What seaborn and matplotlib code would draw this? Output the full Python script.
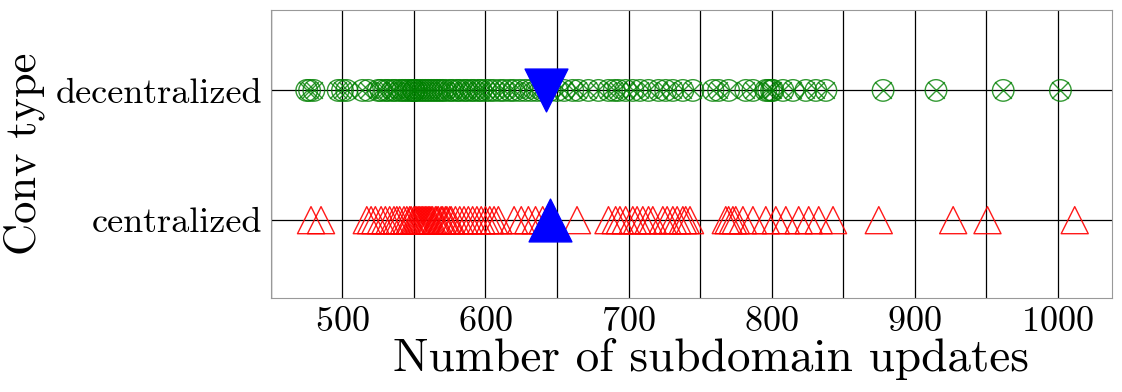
import matplotlib
matplotlib.use("Agg")
import matplotlib.pyplot as plt
import pandas as pd
import seaborn as sns

conv_types = ["decentralized", "centralized"]

decentralized = [475, 477, 480, 497, 500, 503, 514, 518,
                 525, 527, 530, 532, 535, 537, 540, 542, 544, 546, 548, 550, 550, 550,
                 552, 554, 556, 558, 560, 562, 564, 566, 568, 570, 572, 575, 577, 580,
                 582, 585, 587, 590, 592, 595, 597, 600, 603, 606, 610, 613, 617, 620,
                 624, 628, 632, 636, 640, 645, 650, 655,
                 661, 665, 672, 679, 686, 690, 693, 698, 703, 708, 714, 721, 726, 731,
                 738, 745, 759, 763, 770, 782, 787, 796, 798, 800, 801, 808, 815, 824,
                 831, 838,
                 878, 915, 962, 1002]

centralized = [478, 485,
               517, 520, 523, 527, 530, 533, 536, 538, 540, 543, 545, 547, 548, 550,
               551, 552, 553, 554, 555, 556, 557, 558, 559, 560, 561, 562, 563, 565,
               566, 567, 569, 570, 572, 573, 575, 576, 579, 582, 585, 588, 591, 594,
               597, 600, 603, 606, 609,
               620, 625, 630, 635, 640, 664,
               686, 691, 694, 698, 703, 706, 710, 714, 717, 724, 727, 731, 734, 738, 740,
               743,
               768, 770, 773, 775, 780, 787, 796, 803, 810, 819, 826, 833, 843,
               875, 927, 951, 1012]

df = pd.DataFrame({
    "updates": decentralized + centralized,
    "conv": ["decentralized"] * len(decentralized) + ["centralized"] * len(centralized),
})
means = df.groupby("conv")["updates"].mean()

plt.rcParams["font.family"] = "cmr10"
plt.rcParams["axes.formatter.use_mathtext"] = True

fig, ax = plt.subplots(figsize=(11.22, 3.92), dpi=100)
fig.subplots_adjust(left=0.2415, right=0.991, top=0.9745, bottom=0.2398)

dec = df[df.conv == "decentralized"]
cen = df[df.conv == "centralized"]

# circle with a cross for decentralized
sns.stripplot(data=dec, x="updates", y="conv", order=conv_types, jitter=False, ax=ax,
              marker="o", s=15.5, facecolors="none", edgecolor="green", color="none",
              linewidth=1.0, alpha=0.8)
sns.stripplot(data=dec, x="updates", y="conv", order=conv_types, jitter=False, ax=ax,
              marker="x", s=12, color="green", linewidth=1.0, alpha=0.8)
# open triangles for centralized
sns.stripplot(data=cen, x="updates", y="conv", order=conv_types, jitter=False, ax=ax,
              marker="^", s=19.5, facecolors="none", edgecolor="red", color="none",
              linewidth=1.0, alpha=0.9)

# mean markers
ax.scatter([means["decentralized"]], [0], marker="v", s=950, color="blue", zorder=5)
ax.scatter([means["centralized"]], [1], marker="^", s=950, color="blue", zorder=5)

ax.set_xlim(450.5, 1038)
ax.set_ylim(1.6, -0.62)
ax.set_xticks([500, 600, 700, 800, 900, 1000])
ax.set_xticks(range(450, 1050, 50), minor=True)
ax.grid(True, which="both", axis="x", color="black", linewidth=0.9)
ax.grid(True, axis="y", color="black", linewidth=0.9)
ax.set_axisbelow(True)
ax.tick_params(axis="both", which="both", length=0, labelsize=26, pad=6)
for sp in ax.spines.values():
    sp.set_color("#999999")

ax.set_xlabel("Number of subdomain updates", fontsize=34)
ax.xaxis.set_label_coords(0.523, -0.14)
ax.set_ylabel("Conv type", fontsize=32, labelpad=8)

fig.savefig("out.png", dpi=100)
